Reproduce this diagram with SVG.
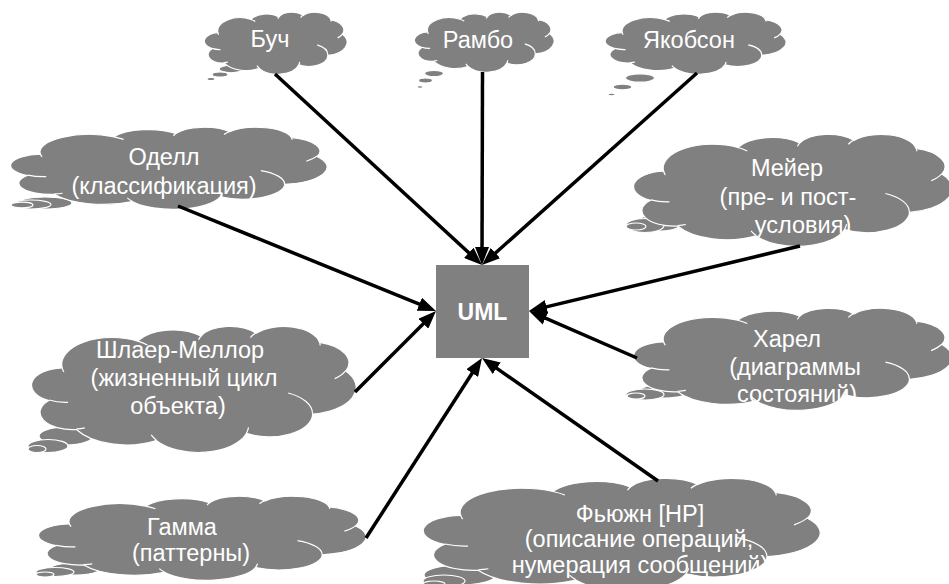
<svg xmlns="http://www.w3.org/2000/svg" xmlns:xlink="http://www.w3.org/1999/xlink" width="949" height="584" viewBox="0 0 949 584">
<style>
.cloud{fill:#808080;stroke:#ffffff;stroke-width:1.2}
.inner{fill:none;stroke:#ffffff;stroke-width:1.2}
.bub{fill:#808080;stroke:#ffffff;stroke-width:1.2}
.lbl{font-family:"Liberation Sans",Arial,sans-serif;font-size:23.5px;fill:#ffffff;text-anchor:middle}
.uml{font-family:"Liberation Sans",Arial,sans-serif;font-size:23px;font-weight:bold;fill:#ffffff;text-anchor:middle}
.conn{stroke:#000000;stroke-width:3.5;fill:none;marker-end:url(#ah)}
</style>
<defs>
<marker id="ah" markerUnits="userSpaceOnUse" markerWidth="18" markerHeight="14" refX="12" refY="7" orient="auto" viewBox="0 0 18 14">
<path d="M0,0 L18,7 L0,14 z" fill="#000000"/>
</marker>
<g id="cloudShape">
<path class="cloud" vector-effect="non-scaling-stroke" d="M39,143.7 A67.53,91.9 0 0 1 140.05,52.02 A53.33,72.67 0 0 1 224.59,34.38 A43.65,59.45 0 0 1 298.36,24.87 A48.57,65.95 0 0 1 383.2,55.84 A53.33,72.73 0 0 1 418.2,154.68 A67.75,92.2 0 0 1 374.05,302.1 A57.85,78.67 0 0 1 285.56,368.2 A67.52,92.15 0 0 1 164.81,392.72 A77.2,105.43 0 0 1 58.06,354.79 A43.6,59.18 0 0 1 21.13,255.59 A43.45,59.45 0 0 1 39,143.7 Z"/>
<path class="inner" vector-effect="non-scaling-stroke" d="M46.93,261.77 A43.45,59.45 0 0 1 21.6,253.8 M69.28,348.99 A43.6,59.18 0 0 1 58.2,352.81 M164.78,390.9 A67.52,92.15 0 0 1 158.1,373.48 M288.27,347.51 A67.52,92.15 0 0 1 285.6,366.6 M341.29,229.54 A57.85,78.67 0 0 1 373.81,300.9 M417.98,153.54 A53.33,72.73 0 0 1 403.5,180.3 M383.24,54.26 A48.57,65.95 0 0 1 384,66.9 M290.78,39.52 A48.57,65.95 0 0 1 298.2,23.39 M221.41,47.2 A43.65,59.45 0 0 1 225,33.31 M140,51.92 A67.53,91.9 0 0 1 153,65.4 M41.27,157.89 A67.53,91.9 0 0 1 39,143.71"/>
</g>
</defs>

<g id="node-buch">
<ellipse class="bub" cx="231" cy="69" rx="12" ry="3.8"/>
<ellipse class="bub" cx="220" cy="74.5" rx="8" ry="2.6"/>
<ellipse class="bub" cx="211" cy="79" rx="4" ry="1.6"/>
<use href="#cloudShape" transform="translate(205,12) scale(0.3287,0.1435)"/>
<text class="lbl" x="270" y="47">Буч</text>
</g>

<g id="node-rambo">
<ellipse class="bub" cx="434" cy="73.5" rx="9.5" ry="3.2"/>
<ellipse class="bub" cx="425.5" cy="80.5" rx="7" ry="2.5"/>
<ellipse class="bub" cx="420" cy="87" rx="3" ry="1.3"/>
<use href="#cloudShape" transform="translate(415,12) scale(0.3218,0.1389)"/>
<text class="lbl" x="478" y="48">Рамбо</text>
</g>

<g id="node-jacobson">
<ellipse class="bub" cx="640" cy="78" rx="14.5" ry="4.2"/>
<ellipse class="bub" cx="622.5" cy="87" rx="9.5" ry="2.9"/>
<ellipse class="bub" cx="611.5" cy="94.5" rx="3.5" ry="1.4"/>
<use href="#cloudShape" transform="translate(606,12) scale(0.4167,0.1435)"/>
<text class="lbl" x="689" y="48">Якобсон</text>
</g>

<g id="node-odell">
<ellipse class="bub" cx="45" cy="203" rx="27" ry="6"/>
<ellipse class="bub" cx="31" cy="204.5" rx="20" ry="4.5"/>
<ellipse class="bub" cx="22" cy="205" rx="11" ry="2.8"/>
<use href="#cloudShape" transform="translate(12,127) scale(0.7292,0.1898)"/>
<text class="lbl" x="164" y="165">Оделл</text>
<text class="lbl" x="164" y="194">(классификация)</text>
</g>

<g id="node-meyer">
<ellipse class="bub" cx="661" cy="222" rx="22" ry="9"/>
<ellipse class="bub" cx="645" cy="225.5" rx="19" ry="7"/>
<ellipse class="bub" cx="636" cy="226.5" rx="10" ry="3.5"/>
<use href="#cloudShape" transform="translate(635,134) scale(0.7338,0.2593)"/>
<text class="lbl" x="787" y="176">Мейер</text>
<text class="lbl" x="788" y="205">(пре- и пост-</text>
<text class="lbl" x="803" y="233">условия)</text>
</g>

<g id="node-harel">
<ellipse class="bub" cx="665" cy="391" rx="25" ry="7"/>
<ellipse class="bub" cx="645" cy="394.5" rx="19" ry="5.5"/>
<ellipse class="bub" cx="636" cy="396" rx="9" ry="3"/>
<use href="#cloudShape" transform="translate(635,308) scale(0.7338,0.2361)"/>
<text class="lbl" x="787" y="347">Харел</text>
<text class="lbl" x="795" y="375">(диаграммы</text>
<text class="lbl" x="797" y="402">состояний)</text>
</g>

<g id="node-shlaer">
<ellipse class="bub" cx="66" cy="436" rx="27" ry="9"/>
<ellipse class="bub" cx="48" cy="446" rx="20" ry="6.5"/>
<ellipse class="bub" cx="37" cy="449" rx="9" ry="3.5"/>
<use href="#cloudShape" transform="translate(33,326) scale(0.7477,0.2917)"/>
<text class="lbl" x="180" y="358">Шлаер-Меллор</text>
<text class="lbl" x="184" y="386">(жизненный цикл</text>
<text class="lbl" x="178" y="414">объекта)</text>
</g>

<g id="node-gamma">
<ellipse class="bub" cx="75" cy="569" rx="25" ry="6"/>
<ellipse class="bub" cx="55" cy="572" rx="19" ry="4.5"/>
<ellipse class="bub" cx="45" cy="574.5" rx="9" ry="2.5"/>
<use href="#cloudShape" transform="translate(40,496) scale(0.7546,0.1944)"/>
<text class="lbl" x="182" y="535">Гамма</text>
<text class="lbl" x="191" y="561">(паттерны)</text>
</g>

<g id="node-fusion">
<ellipse class="bub" cx="460" cy="575" rx="36" ry="10"/>
<ellipse class="bub" cx="444" cy="581" rx="21" ry="6"/>
<ellipse class="bub" cx="434" cy="584" rx="11" ry="3"/>
<use href="#cloudShape" transform="translate(425,478) scale(0.9144,0.26)"/>
<text class="lbl" x="640" y="522">Фьюжн [HP]</text>
<text class="lbl" x="639" y="547">(описание операций,</text>
<text class="lbl" x="640" y="573">нумерация сообщений)</text>
</g>

<g id="node-uml">
<rect x="436" y="265" width="93" height="93" fill="#808080"/>
<text class="uml" x="482.5" y="320">UML</text>
</g>

<g id="connectors">
<line class="conn" x1="275" y1="74" x2="477.6" y2="260.9"/>
<line class="conn" x1="482.5" y1="72" x2="482" y2="259"/>
<line class="conn" x1="697" y1="73" x2="486.5" y2="261"/>
<line class="conn" x1="178" y1="206" x2="430.4" y2="308.7"/>
<line class="conn" x1="355" y1="392" x2="431.8" y2="315.2"/>
<line class="conn" x1="800" y1="246" x2="534.8" y2="309.6"/>
<line class="conn" x1="637" y1="358" x2="534.5" y2="313.4"/>
<line class="conn" x1="366" y1="538" x2="478.7" y2="363"/>
<line class="conn" x1="658" y1="481" x2="486.9" y2="361.4"/>
</g>
</svg>
